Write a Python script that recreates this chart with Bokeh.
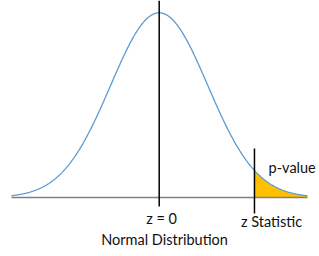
import numpy as np
from bokeh.plotting import figure
from bokeh.models import Range1d, Label
from bokeh.embed import file_html
from bokeh.resources import INLINE

# data
z_min, z_max = -3.04, 3.05
z_stat = 1.96
z = np.linspace(z_min, z_max, 400)
pdf = np.exp(-z**2 / 2) / np.sqrt(2 * np.pi)
tail_z = z[z >= z_stat]
tail_pdf = pdf[z >= z_stat]

label_texts = ["z = 0", "z Statistic", "p-value", "Normal Distribution"]

p = figure(width=319, height=256, output_backend="svg", toolbar_location=None,
           x_range=Range1d(-3.265, 3.298), y_range=Range1d(-0.1274, 0.4255),
           min_border=0, outline_line_color=None)
p.axis.visible = False
p.grid.visible = False
p.background_fill_color = "white"
p.border_fill_color = "white"

# tail fill
p.varea(x=np.concatenate([[z_stat], tail_z]), y1=0,
        y2=np.concatenate([[np.exp(-z_stat**2/2)/np.sqrt(2*np.pi)], tail_pdf]),
        fill_color="#FFC000")
# baseline
p.line([z_min, z_max], [0, 0], line_color="#808080", line_width=1.5)
# curve
p.line(z, pdf, line_color="#5B9BD5", line_width=1.3)
# center line
p.line([0, 0], [-0.0194, 0.4255], line_color="black", line_width=1.5)
# z stat line
p.line([z_stat, z_stat], [-0.0346, 0.1058], line_color="black", line_width=1.5)

font = "Lato"
fs = "14.5px"
col = "#111111"
p.add_layout(Label(x=0.05, y=-0.0454, text=label_texts[0], text_align="center",
                   text_baseline="middle", text_font=font, text_font_size=fs, text_color=col))
p.add_layout(Label(x=2.31, y=-0.0518, text=label_texts[1], text_align="center",
                   text_baseline="middle", text_font=font, text_font_size=fs, text_color=col))
p.add_layout(Label(x=2.25, y=0.0648, text=label_texts[2], text_align="left",
                   text_baseline="middle", text_font=font, text_font_size=fs, text_color=col))
p.add_layout(Label(x=0.11, y=-0.0907, text=label_texts[3], text_align="center",
                   text_baseline="middle", text_font=font, text_font_size=fs, text_color=col))

open("out.html", "w").write(file_html(p, INLINE))
